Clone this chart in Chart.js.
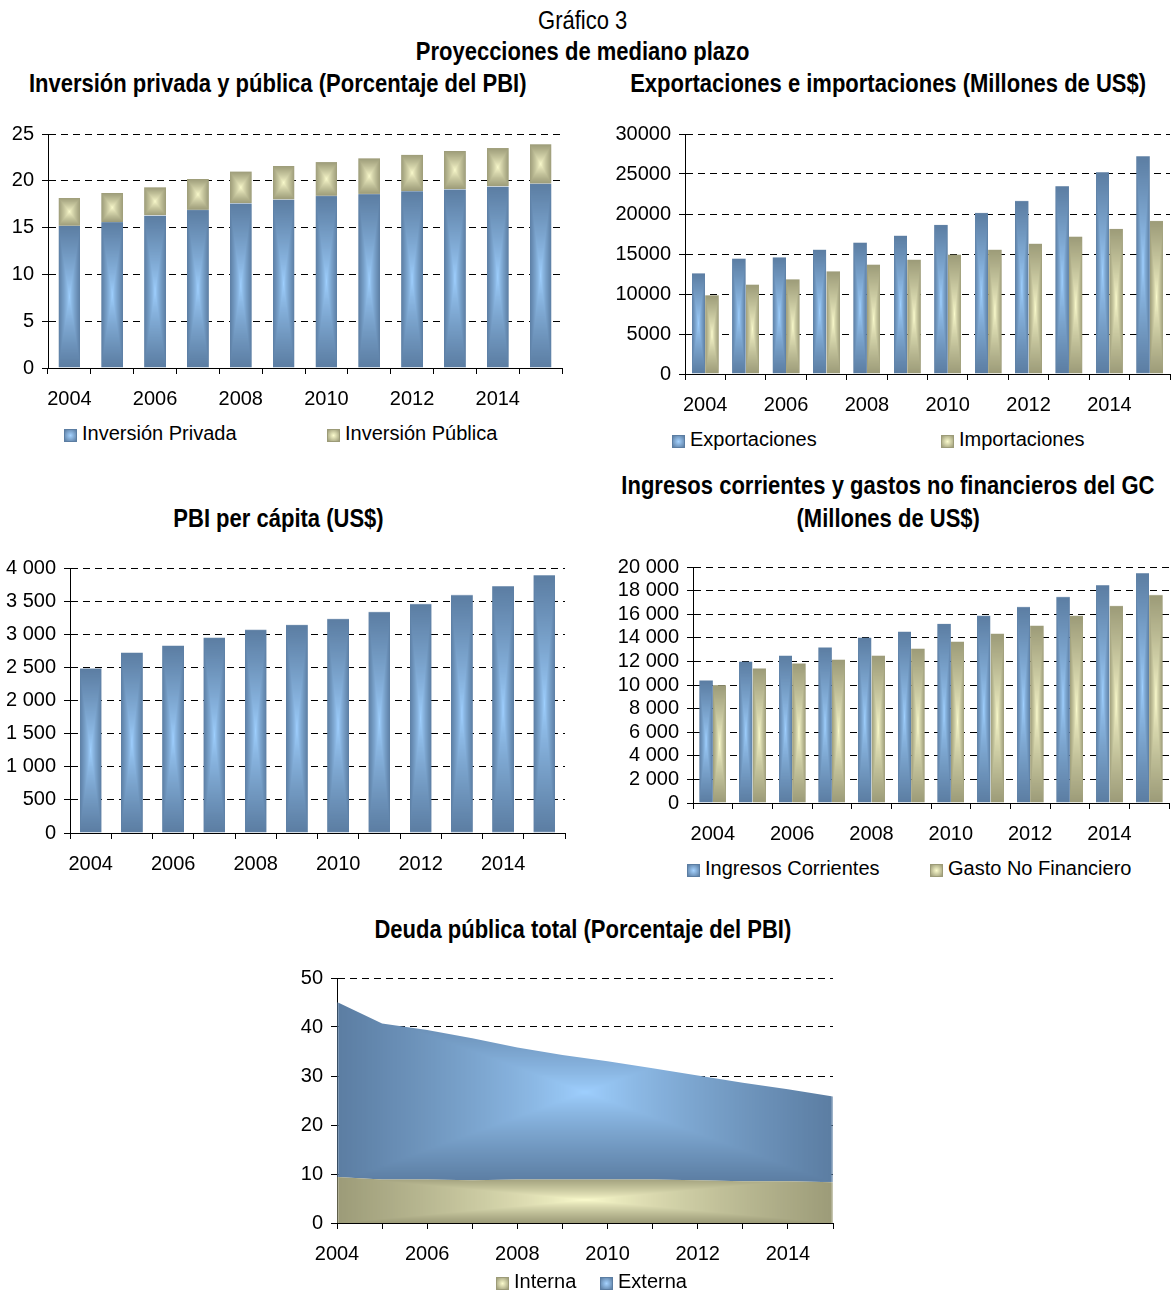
<!DOCTYPE html>
<html lang="es">
<head>
<meta charset="UTF-8">
<title>Gráfico 3</title>
<script src="https://cdn.jsdelivr.net/npm/chart.js@4.4.1/dist/chart.umd.min.js"></script>
<style>
  body { margin: 0; background: #fff; width: 1172px; height: 1291px; position: relative; overflow: hidden;
         font-family: "Liberation Sans", Arial, sans-serif; }
  .t { position: absolute; text-align: center; white-space: nowrap; color: #000; font-size: 25px; line-height: 32px; }
  .t span { display: inline-block; transform: scaleX(0.88); transform-origin: center; }
  .b { font-weight: bold; }
  canvas { position: absolute; }
  .lg { position: absolute; font-size: 20px; line-height: 24px; height: 24px; white-space: nowrap; }
  .sw { display: inline-block; width: 11px; height: 11px; margin-right: 6px; vertical-align: -1px; }
  .blue { background: radial-gradient(#a6d3ff, #5b7da2); outline: 1px solid #5b7da2; }
  .tan { background: radial-gradient(#fbfbcd, #9c9b78); outline: 1px solid #9c9b78; }
</style>
</head>
<body>

<div class="t" style="left:0;width:1165px;top:4px"><span>Gráfico 3</span></div>
<div class="t b" style="left:0;width:1165px;top:35px"><span>Proyecciones de mediano plazo</span></div>
<div class="t b" style="left:-45px;width:645px;top:67px"><span>Inversión privada y pública (Porcentaje del PBI)</span></div>
<div class="t b" style="left:560px;width:656px;top:67px"><span>Exportaciones e importaciones (Millones de US$)</span></div>
<div class="t b" style="left:0;width:556px;top:502px"><span>PBI per cápita (US$)</span></div>
<div class="t b" style="left:560px;width:656px;top:469px"><span>Ingresos corrientes y gastos no financieros del GC</span></div>
<div class="t b" style="left:560px;width:656px;top:502px"><span>(Millones de US$)</span></div>
<div class="t b" style="left:0;width:1166px;top:913px"><span>Deuda pública total (Porcentaje del PBI)</span></div>

<canvas id="c1" width="575" height="306" style="left:0;top:114px"></canvas>
<canvas id="c2" width="577" height="306" style="left:595px;top:114px"></canvas>
<canvas id="c3" width="575" height="332" style="left:0;top:548px"></canvas>
<canvas id="c4" width="577" height="303" style="left:595px;top:547px"></canvas>
<canvas id="c5" width="566" height="312" style="left:280px;top:958px"></canvas>

<div class="lg" style="left:65px;top:421px"><span class="sw blue"></span>Inversión Privada</div>
<div class="lg" style="left:328px;top:421px"><span class="sw tan"></span>Inversión Pública</div>
<div class="lg" style="left:673px;top:427px"><span class="sw blue"></span>Exportaciones</div>
<div class="lg" style="left:942px;top:427px"><span class="sw tan"></span>Importaciones</div>
<div class="lg" style="left:688px;top:856px"><span class="sw blue"></span>Ingresos Corrientes</div>
<div class="lg" style="left:931px;top:856px"><span class="sw tan"></span>Gasto No Financiero</div>
<div class="lg" style="left:497px;top:1269px"><span class="sw tan"></span>Interna</div>
<div class="lg" style="left:601px;top:1269px"><span class="sw blue"></span>Externa</div>

<script>
// ---- data ----
var years = ['2004','2005','2006','2007','2008','2009','2010','2011','2012','2013','2014','2015'];

var invPrivada = [15.2, 15.6, 16.3, 16.9, 17.6, 18.0, 18.4, 18.6, 18.9, 19.1, 19.4, 19.7];
var invPublica = [3.0, 3.1, 3.0, 3.3, 3.4, 3.6, 3.6, 3.8, 3.9, 4.1, 4.1, 4.2];

var exportaciones = [12600, 14450, 14600, 15550, 16450, 17300, 18650, 20150, 21650, 23500, 25250, 27250];
var importaciones = [9850, 11200, 11850, 12850, 13700, 14300, 14950, 15550, 16300, 17200, 18150, 19150];

var pbiPerCapita = [2485, 2725, 2830, 2950, 3070, 3145, 3235, 3340, 3460, 3595, 3730, 3895];

var ingresosCorrientes = [10400, 12000, 12500, 13200, 14030, 14530, 15200, 15880, 16630, 17480, 18480, 19500];
var gastoNoFinanciero = [9990, 11420, 11840, 12170, 12510, 13100, 13690, 14360, 15040, 15880, 16720, 17640];

var deudaInterna = [9.4, 8.9, 8.9, 8.7, 8.9, 8.9, 8.9, 8.9, 8.7, 8.5, 8.5, 8.3];
var deudaExterna = [35.7, 31.8, 30.5, 29.0, 26.9, 25.4, 24.1, 22.7, 21.4, 20.1, 18.8, 17.5];

var BLUE = ['#5b7da2', '#9fd0ff'];
var TAN = ['#9c9b78', '#fbfbcd'];
var FONT = { family: 'Liberation Sans, Arial, sans-serif', size: 20 };

// rectangular "from centre" gradient tile, stretched onto each mark with a pattern transform
var tiles = {};
function hex(c) { return [parseInt(c.substr(1,2),16), parseInt(c.substr(3,2),16), parseInt(c.substr(5,2),16)]; }
function tile(cols) {
    var key = cols.join();
    if (tiles[key]) return tiles[key];
    var n = 100, cv = document.createElement('canvas');
    cv.width = n; cv.height = n;
    var g = cv.getContext('2d'), img = g.createImageData(n, n);
    var d = hex(cols[0]), l = hex(cols[1]);
    for (var y = 0; y < n; y++) {
        for (var x = 0; x < n; x++) {
            var t = Math.max(Math.abs(x + 0.5 - n/2), Math.abs(y + 0.5 - n/2)) / (n/2);
            var k = Math.pow(t, 0.8), p = (y*n + x)*4;
            for (var c = 0; c < 3; c++) img.data[p+c] = Math.round(l[c] + (d[c]-l[c])*k);
            img.data[p+3] = 255;
        }
    }
    g.putImageData(img, 0, 0);
    tiles[key] = cv;
    return cv;
}
function rectFill(chart, x0, y0, w, h, cols) {
    var p = chart.ctx.createPattern(tile(cols), 'no-repeat');
    p.setTransform(new DOMMatrix().translate(x0, y0).scale(w/100, h/100));
    return p;
}
function barFill(cols) {
    return function (ctx) {
        var el = ctx.element;
        if (ctx.type !== 'data' || !el || !el.width || el.base === undefined) return cols[0];
        var top = Math.min(el.y, el.base), h = Math.abs(el.base - el.y);
        return rectFill(ctx.chart, el.x - el.width/2, top, el.width, Math.max(h, 1), cols);
    };
}
function spaced(v) { return String(v).replace(/\B(?=(\d{3})+(?!\d))/g, ' '); }

function opts(o) {
    return {
        responsive: false, animation: false, events: [],
        layout: { padding: { top: 0, right: o.right, left: 0, bottom: 0 } },
        plugins: { legend: { display: false }, tooltip: { enabled: false } },
        scales: {
            x: {
                stacked: !!o.stacked,
                offset: o.offset,
                afterFit: function (s) { s.height = o.xh; },
                grid: { display: true, drawOnChartArea: false, drawTicks: true, tickLength: 6, color: '#000', offset: o.offset },
                border: { color: '#000', width: 1 },
                ticks: { color: '#000', font: FONT, autoSkip: false, maxRotation: 0, padding: 13,
                         callback: function (v, i) { return i % 2 === 0 ? years[i] : ''; } }
            },
            y: {
                stacked: !!o.stacked,
                min: 0, max: o.max,
                afterFit: function (s) { s.width = o.yw; },
                grid: { color: '#000', lineWidth: 1, tickLength: 6 },
                border: { color: '#000', width: 1, dash: [7, 5] },
                ticks: { color: '#000', font: FONT, stepSize: o.step, padding: 8, autoSkip: false,
                         callback: o.fmt || function (v) { return v; } }
            }
        }
    };
}

function barChart(id, datasets, o) {
    var ch = new Chart(document.getElementById(id), {
        type: 'bar',
        data: { labels: years, datasets: datasets },
        options: opts(o)
    });
    ch.update(); // second pass: bar geometry known, gradients placed on each bar
    return ch;
}

barChart('c1', [
    { label: 'Inversión Privada', data: invPrivada, backgroundColor: barFill(BLUE), barPercentage: 0.51, categoryPercentage: 1 },
    { label: 'Inversión Pública', data: invPublica, backgroundColor: barFill(TAN), barPercentage: 0.51, categoryPercentage: 1 }
], { right: 13, yw: 48, xh: 52, max: 25, step: 5, stacked: true, offset: true });

barChart('c2', [
    { label: 'Exportaciones', data: exportaciones, backgroundColor: barFill(BLUE), barPercentage: 1, categoryPercentage: 0.67 },
    { label: 'Importaciones', data: importaciones, backgroundColor: barFill(TAN), barPercentage: 1, categoryPercentage: 0.67 }
], { right: 2, yw: 90, xh: 46, max: 30000, step: 5000, offset: true });

barChart('c3', [
    { label: 'PBI per cápita', data: pbiPerCapita, backgroundColor: barFill(BLUE), barPercentage: 0.53, categoryPercentage: 1 }
], { right: 10, yw: 70, xh: 47, max: 4000, step: 500, offset: true, fmt: spaced });

barChart('c4', [
    { label: 'Ingresos Corrientes', data: ingresosCorrientes, backgroundColor: barFill(BLUE), barPercentage: 1, categoryPercentage: 0.68 },
    { label: 'Gasto No Financiero', data: gastoNoFinanciero, backgroundColor: barFill(TAN), barPercentage: 1, categoryPercentage: 0.68 }
], { right: 3, yw: 98, xh: 47, max: 20000, step: 2000, offset: true, fmt: spaced });

// stacked area
function areaFill(cols, which) {
    return function (ctx) {
        var c = ctx.chart, a = c.chartArea, y = c.scales.y;
        if (!a || !y) return cols[0];
        var top, bot;
        if (which === 0) { top = y.getPixelForValue(Math.max.apply(null, deudaInterna)); bot = y.getPixelForValue(0); }
        else {
            var tot = deudaInterna.map(function (v, i) { return v + deudaExterna[i]; });
            top = y.getPixelForValue(Math.max.apply(null, tot));
            bot = y.getPixelForValue(Math.min.apply(null, deudaInterna));
        }
        return rectFill(c, a.left, top, a.right - a.left, bot - top, cols);
    };
}
var c5 = new Chart(document.getElementById('c5'), {
    type: 'line',
    data: {
        labels: years,
        datasets: [
            { label: 'Interna', data: deudaInterna, fill: 'origin', backgroundColor: areaFill(TAN, 0), borderWidth: 0, pointRadius: 0, tension: 0 },
            { label: 'Externa', data: deudaExterna, fill: '-1', backgroundColor: areaFill(BLUE, 1), borderWidth: 0, pointRadius: 0, tension: 0 }
        ]
    },
    options: opts({ right: 8, yw: 57, xh: 47, max: 50, step: 10, stacked: true, offset: false })
});
c5.update();
</script>
</body>
</html>
